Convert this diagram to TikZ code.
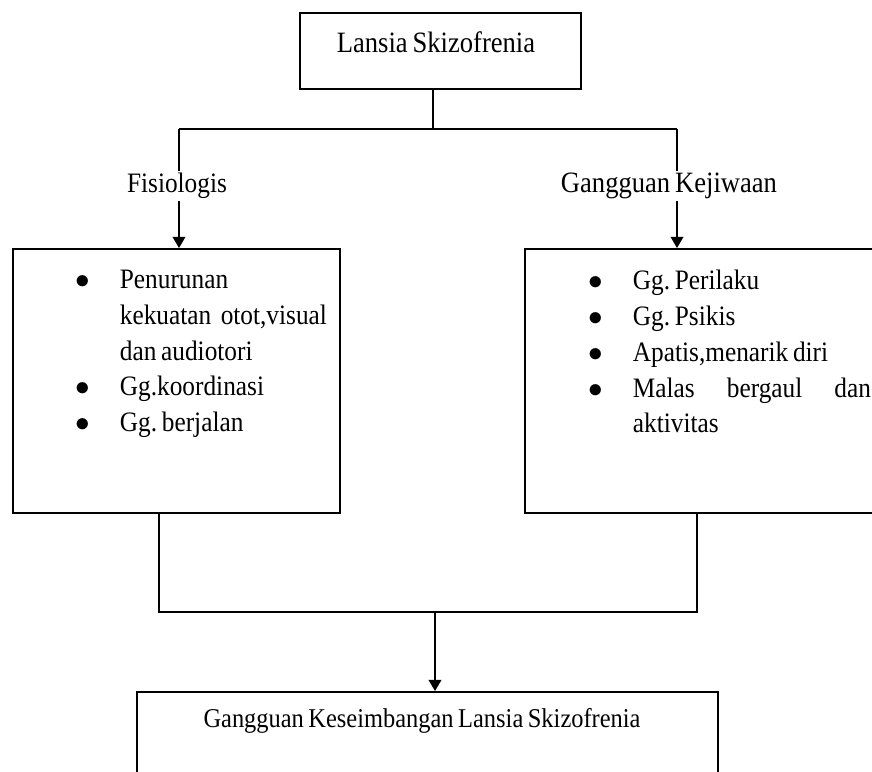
\documentclass[tikz,border=0pt]{standalone}
\usepackage{fontspec}
\setmainfont{Liberation Serif}[FakeStretch=0.9, WordSpace=0.75]
\usetikzlibrary{arrows.meta}
\setlength{\parindent}{0pt}
\frenchspacing
\newcommand{\bul}{\leavevmode\llap{$\bullet$\hspace{21pt}}}

\begin{document}
\begin{tikzpicture}[x=0.025cm, y=-0.025cm, line width=1.3pt,
        font=\fontsize{20}{25.5}\selectfont,
        kotak/.style={draw, rectangle, inner sep=0},
        panah/.style={-{Triangle[length=8pt, width=9pt]}}]
        \useasboundingbox (0,0) rectangle (872,771);
        \clip (0,0) rectangle (872,771);

        % Boxes
        \node[kotak, minimum width=7.025cm, minimum height=1.9cm] (lansia) at (440.5, 51) {};
        \node[kotak, minimum width=8.175cm, minimum height=6.6cm] (kiri) at (176.5, 381) {};
        \node[kotak, minimum width=9.375cm, minimum height=6.6cm] (kanan) at (712.5, 381) {};
        \node[kotak, minimum width=14.525cm, minimum height=3.45cm] (hasil) at (427.5, 761) {};

        % Texts
        \node[inner sep=0, font=\fontsize{21}{25.5}\selectfont] (judul) at (436, 42.5) {Lansia Skizofrenia};
        \node[inner sep=1pt] (fisio) at (177, 186) {Fisiologis};
        \node[inner sep=1pt, font=\fontsize{21}{25.5}\selectfont] (jiwa) at (669, 186) {Gangguan Kejiwaan};
        \node[inner sep=0, anchor=north west, text width=5.6cm, align=flush left] (listkiri) at (119, 269) {%
            \bul Penurunan\\
            kekuatan\ \ otot,visual\\
            dan audiotori\\
            \bul Gg.koordinasi\\
            \bul Gg. berjalan};
        \node[inner sep=0, anchor=north west, text width=5.95cm, align=flush left] (listkanan) at (632, 269) {%
            \bul Gg. Perilaku\\
            \bul Gg. Psikis\\
            \bul Apatis,menarik diri\\
            \bul Malas\hfill bergaul\hfill dan\\
            aktivitas};
        \node[inner sep=0, font=\fontsize{19.3}{25.5}\selectfont] (judulhasil) at (422, 721) {Gangguan Keseimbangan Lansia Skizofrenia};

        % Branches
        \coordinate (cabang) at (433, 129);
        \coordinate (cabkiri) at (179, 129);
        \coordinate (cabkanan) at (677, 129);
        \draw (lansia.south -| cabang) -- (cabang);
        \draw (cabkiri) -- (cabkanan);
        \draw (cabkiri) -- (cabkiri |- fisio.north);
        \draw[panah] (cabkiri |- fisio.south) -- (cabkiri |- kiri.north);
        \draw (cabkanan) -- (cabkanan |- jiwa.north);
        \draw[panah] (cabkanan |- jiwa.south) -- (cabkanan |- kanan.north);

        % Merge
        \coordinate (gabkiri) at (159, 612);
        \coordinate (gabkanan) at (697, 612);
        \coordinate (gabung) at (435, 612);
        \draw (kiri.south -| gabkiri) -- (gabkiri) -- (gabkanan) -- (kanan.south -| gabkanan);
        \draw[panah] (gabung) -- (gabung |- hasil.north);
    \end{tikzpicture}
\end{document}
